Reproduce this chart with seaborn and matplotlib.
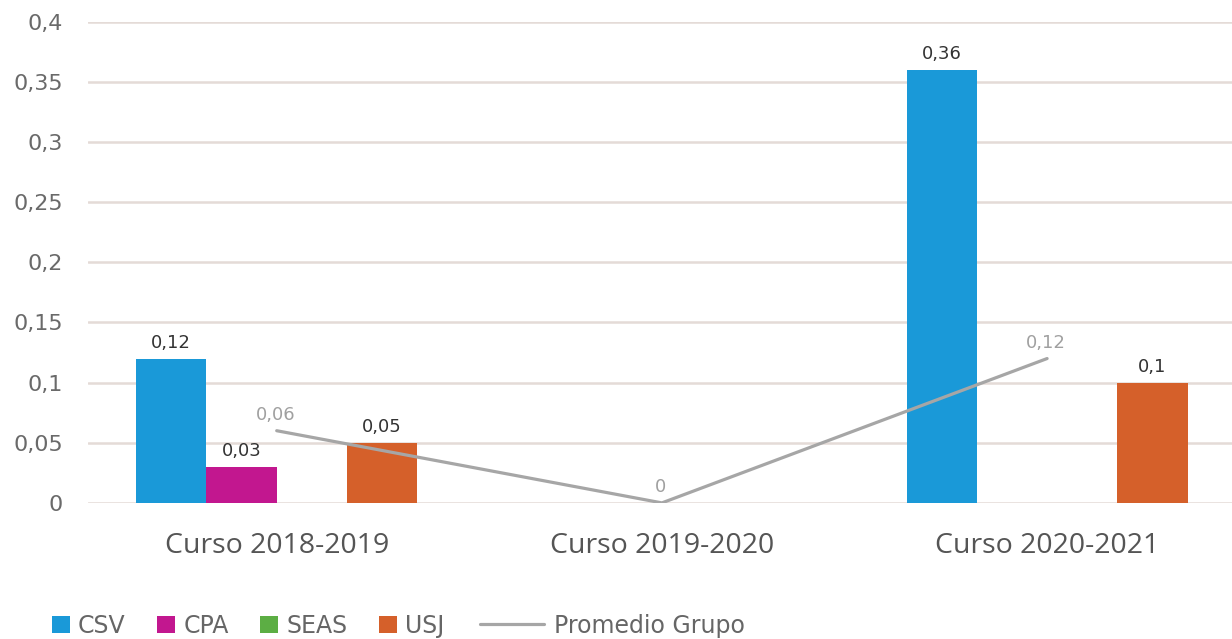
import matplotlib
matplotlib.use('Agg')
import matplotlib.pyplot as plt
from matplotlib.lines import Line2D
import numpy as np
import pandas as pd
import seaborn as sns

# data
categories = ['Curso 2018-2019', 'Curso 2019-2020', 'Curso 2020-2021']
series = ['CSV', 'CPA', 'SEAS', 'USJ']
csv_vals = [0.12, 0.0, 0.36]
cpa_vals = [0.03, 0.0, 0.0]
seas_vals = [0.0, 0.0, 0.0]
usj_vals = [0.05, 0.0, 0.10]
promedio = [0.06, 0.0, 0.12]
yticks = [0, 0.05, 0.1, 0.15, 0.2, 0.25, 0.3, 0.35, 0.4]

colours = {'CSV': '#1a99d8', 'CPA': '#c2178f', 'SEAS': '#5cae44', 'USJ': '#d5602a'}
line_colour = '#a6a6a6'


def fmt(v):
    return f'{v:g}'.replace('.', ',')


df = pd.DataFrame({
    'curso': categories * len(series),
    'serie': np.repeat(series, len(categories)),
    'valor': csv_vals + cpa_vals + seas_vals + usj_vals,
})

sns.set_theme(style='white')
plt.rcParams['font.family'] = ['DejaVu Sans']

fig = plt.figure(figsize=(12.32, 6.39), dpi=100)
ax = fig.add_axes([0.0714, 0.213, 0.9286, 0.753])

sns.barplot(data=df, x='curso', y='valor', hue='serie', order=categories,
            hue_order=series, palette=colours, width=0.73, gap=0,
            saturation=1, linewidth=0, ax=ax)

# bar value labels, only for non-zero bars
for cont, name in zip(ax.containers, series):
    vals = df[df['serie'] == name]['valor'].tolist()
    ax.bar_label(cont, labels=[fmt(v) if v > 0 else '' for v in vals],
                 padding=5, fontsize=13, color='#333333')

pos = np.arange(len(categories))
sns.lineplot(x=pos, y=promedio, color=line_colour, linewidth=2.3,
             label='Promedio Grupo', ax=ax)
for x, v in zip(pos, promedio):
    ax.annotate(fmt(v), (x, v), xytext=(-1, 5), textcoords='offset points',
                ha='center', va='bottom', fontsize=13, color='#a0a0a0')

ax.set_ylim(0, 0.4)
ax.set_xlim(-0.49, 2.48)
ax.set_yticks(yticks)
ax.set_yticklabels([fmt(t) for t in yticks])
ax.grid(axis='y', color='#e4dbd7', linewidth=1.8)
ax.set_axisbelow(True)
for s in ax.spines.values():
    s.set_visible(False)
ax.set_xlabel('')
ax.set_ylabel('')
ax.tick_params(axis='y', length=0, pad=18, labelsize=16, labelcolor='#6a6a6a')
ax.tick_params(axis='x', length=0, pad=21, labelsize=20.5, labelcolor='#555555')
for lab in ax.get_xticklabels():
    lab.set_family(['Open Sans', 'DejaVu Sans'])

handles, labels = ax.get_legend_handles_labels()
ax.get_legend().remove()
bar_h = [h for h in handles if not isinstance(h, Line2D)]
bar_l = [l for h, l in zip(handles, labels) if not isinstance(h, Line2D)]
line_h = [h for h in handles if isinstance(h, Line2D)]
line_l = [l for h, l in zip(handles, labels) if isinstance(h, Line2D)]

fig.legend(bar_h, bar_l, loc='center left', bbox_to_anchor=(0.042, 0.021),
           ncol=4, frameon=False, fontsize=17, labelcolor='#666666',
           handlelength=0.76, handleheight=0.76, handletextpad=0.34,
           columnspacing=1.35, borderpad=0, borderaxespad=0)
leg2 = fig.legend(line_h, line_l, loc='center left', bbox_to_anchor=(0.39, 0.021),
                  frameon=False, fontsize=17, labelcolor='#666666',
                  handlelength=2.7, handletextpad=0.42, borderpad=0,
                  borderaxespad=0)
for h in leg2.legend_handles:
    h.set_linewidth(2.3)

fig.savefig('out.png', dpi=100, facecolor='white')
